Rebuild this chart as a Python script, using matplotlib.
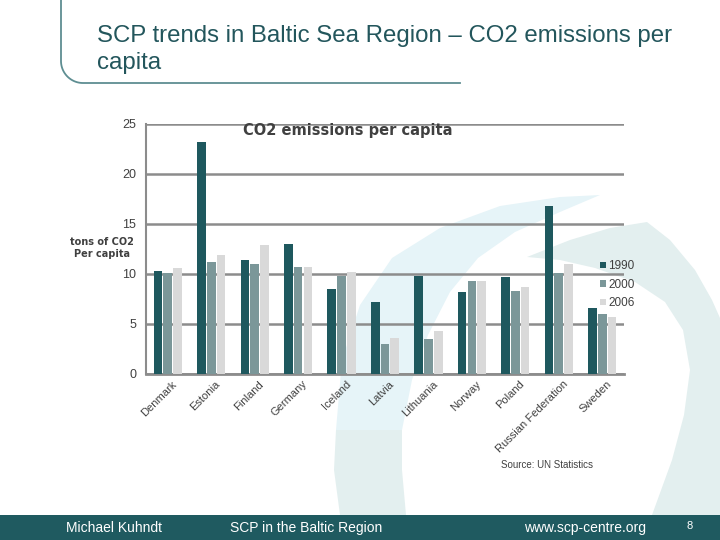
import matplotlib
matplotlib.use("Agg")
import matplotlib.pyplot as plt
import numpy as np
from matplotlib.path import Path
from matplotlib.patches import PathPatch, Rectangle
from matplotlib.lines import Line2D
import matplotlib.transforms as mtransforms

countries = ["Denmark", "Estonia", "Finland", "Germany", "Iceland", "Latvia",
             "Lithuania", "Norway", "Poland", "Russian Federation", "Sweden"]
years = ["1990", "2000", "2006"]
v1990 = [10.3, 23.2, 11.4, 13.0, 8.5, 7.2, 9.8, 8.2, 9.7, 16.8, 6.6]
v2000 = [10.1, 11.2, 11.0, 10.7, 9.8, 3.0, 3.5, 9.3, 8.3, 10.1, 6.0]
v2006 = [10.6, 11.9, 12.9, 10.7, 10.2, 3.6, 4.3, 9.3, 8.7, 11.0, 5.7]
yticks = [0, 5, 10, 15, 20, 25]

W, H = 720, 540
fig = plt.figure(figsize=(7.2, 5.4), dpi=100)
plt.rcParams['font.family'] = ['Liberation Sans', 'DejaVu Sans']

def P(x, y):
    return (x / W, 1 - y / H)

# --- background watermark shapes (pixel coords) ---
def poly(points, color):
    verts = [P(x, y) for x, y in points]
    verts.append(verts[0])
    codes = [Path.MOVETO] + [Path.LINETO] * (len(verts) - 2) + [Path.CLOSEPOLY]
    p = PathPatch(Path(verts, codes), transform=fig.transFigure,
                  facecolor=color, edgecolor='none', zorder=-5)
    fig.add_artist(p)

cyan = '#E6F4F8'
teal = '#E3EFEF'
poly([(336, 430), (342, 360), (360, 305), (392, 258), (440, 228), (500, 206),
      (560, 197), (600, 195), (560, 212), (515, 232), (478, 258), (450, 292),
      (428, 335), (412, 380), (402, 430)], cyan)
poly([(336, 430), (402, 430), (402, 470), (406, 515), (340, 515), (334, 470)], teal)
poly([(527, 257), (570, 240), (610, 228), (647, 222), (670, 240), (695, 270),
      (712, 300), (720, 318), (720, 515), (652, 515), (672, 460), (684, 415),
      (690, 370), (683, 330), (665, 302), (635, 282), (595, 268), (560, 260)], teal)

# --- footer band ---
fig.add_artist(Rectangle(P(0, 540), 1, 25 / H, transform=fig.transFigure,
                         facecolor='#1F5A60', edgecolor='none', zorder=-4))
fcol = 'white'
fig.text(*P(114, 528), "Michael Kuhndt", color=fcol, fontsize=10, ha='center', va='center')
fig.text(*P(306, 528), "SCP in the Baltic Region", color=fcol, fontsize=10, ha='center', va='center')
fig.text(*P(585, 528), "www.scp-centre.org", color=fcol, fontsize=10, ha='center', va='center')
fig.text(*P(690, 526), "8", color=fcol, fontsize=8, ha='center', va='center')

# --- title frame ---
t = np.linspace(0, np.pi / 2, 30)
r = 22
cx, cy = 61 + r, 83 - r
arc_x = cx - r * np.cos(t)
arc_y = cy + r * np.sin(t)
xs = [61] + list(arc_x) + [460]
ys = [0] + list(arc_y) + [83]
fig.add_artist(Line2D([v / W for v in xs], [1 - v / H for v in ys],
                      transform=fig.transFigure, color='#5E8E92', lw=1.3))

tcol = '#23565C'
fig.text(*P(97, 36), "SCP trends in Baltic Sea Region \u2013 CO2 emissions per",
         color=tcol, fontsize=17.3, ha='left', va='center')
fig.text(*P(97, 63), "capita", color=tcol, fontsize=17.3, ha='left', va='center')

# --- chart ---
ax = fig.add_axes([146 / W, 1 - 374 / H, (624 - 146) / W, 250 / H])
ax.set_zorder(1)
ax.set_facecolor('none')
x = np.arange(len(countries))
bw = 0.2
off = 0.225
cols = ['#1E585E', '#7B9799', '#D9D9D9']
for i, (vals, c) in enumerate(zip([v1990, v2000, v2006], cols)):
    ax.bar(x + (i - 1) * off, vals, bw, color=c, zorder=3, label=years[i])

ax.set_xlim(-0.5, len(countries) - 0.5)
ax.set_ylim(0, 25)
ax.set_yticks(yticks)
ax.set_yticklabels([str(v) for v in yticks], fontsize=9, color='#404040')
ax.grid(axis='y', color='#8C8C8C', lw=1.8, zorder=0)
ax.set_axisbelow(True)
ax.tick_params(axis='both', length=0)
ax.tick_params(axis='y', pad=7)
for s in ['top', 'right']:
    ax.spines[s].set_visible(False)
ax.spines['left'].set_color('#8C8C8C')
ax.spines['left'].set_linewidth(1.5)
ax.spines['bottom'].set_color('#8C8C8C')
ax.spines['bottom'].set_linewidth(2)
ax.set_xticks(x)
offset = mtransforms.ScaledTranslation(4 / 100, 0 / 100, fig.dpi_scale_trans)
ax.set_xticklabels(countries, rotation=45, ha='right', va='top',
                   rotation_mode='anchor', fontsize=8, color='#404040')
for lab in ax.get_xticklabels():
    lab.set_transform(lab.get_transform() + offset)

fig.text(*P(348, 131), "CO2 emissions per capita", fontsize=10.5, fontweight='bold',
         color='#404040', ha='center', va='center', family='DejaVu Sans')
fig.text(*P(102, 242), "tons of CO2", fontsize=7, fontweight='bold', color='#404040',
         ha='center', va='center', family='DejaVu Sans')
fig.text(*P(102, 254), "Per capita", fontsize=7, fontweight='bold', color='#404040',
         ha='center', va='center', family='DejaVu Sans')

leg = ax.legend(loc='upper left', bbox_to_anchor=(592 / W, 1 - 252 / H),
                bbox_transform=fig.transFigure, frameon=False, fontsize=8.5,
                handlelength=0.45, handleheight=0.45, handletextpad=0.25,
                labelspacing=0.55, labelcolor='#404040', borderpad=0.2)

fig.text(*P(547, 465), "Source: UN Statistics", fontsize=7, color='#404040',
         ha='center', va='center')

fig.savefig("out.png", dpi=100)
